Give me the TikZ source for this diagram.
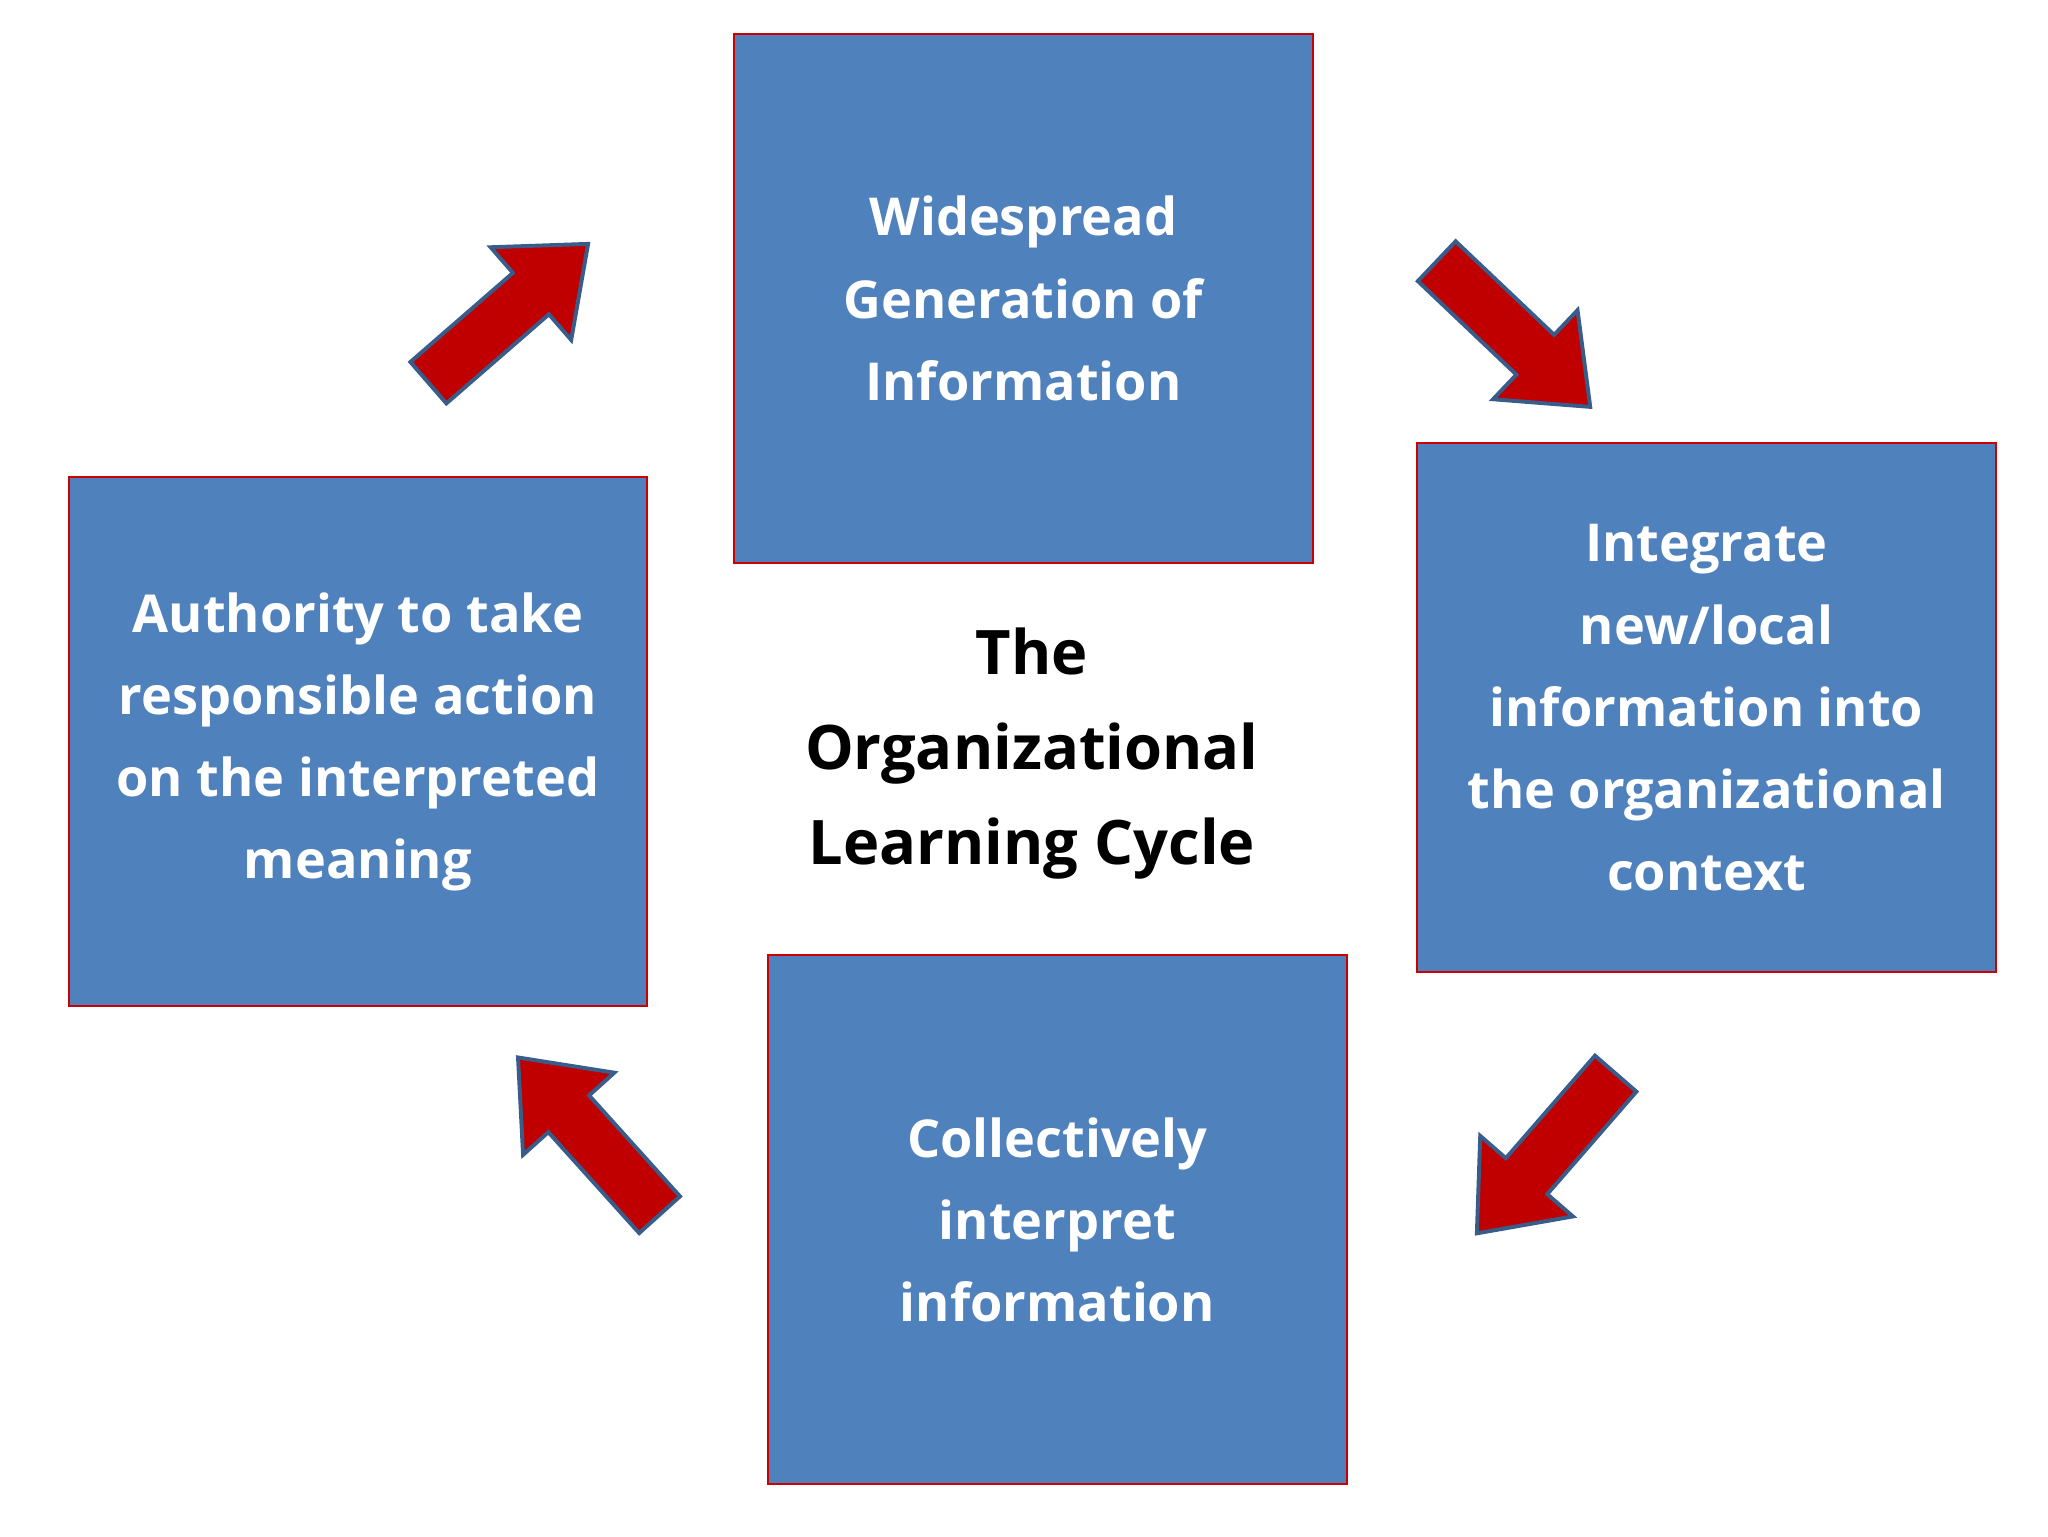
\documentclass[tikz,border=0pt]{standalone}
\usepackage{fontspec}
\setmainfont{Open Sans}
\definecolor{boxblue}{HTML}{4F81BD}
\definecolor{arrred}{HTML}{C00000}
\definecolor{arrline}{HTML}{385D8A}
\tikzset{
  stagebox/.style={draw=red!80!black, line width=1.5pt, fill=boxblue, text=white, minimum width=443pt, minimum height=405pt, align=center, font=\fontsize{40}{63}\selectfont\bfseries, inner sep=0pt},
  bigarrow/.style={draw=arrline, line width=3pt, fill=arrred, line join=miter}
}
\newcommand{\blockarrow}[3]{%
  \begin{scope}[shift={(#1,#2)}, rotate=#3]
    \draw[bigarrow] (0,-21) -- (104,-21) -- (104,-47) -- (162,0) -- (104,47) -- (104,21) -- (0,21) -- cycle;
  \end{scope}}
\begin{document}
\begin{tikzpicture}[x=1pt,y=-1pt]
\useasboundingbox (0,0) rectangle (1568,1176);
\node[stagebox] (top) at (783.5,228.5) {Widespread\\Generation of\\Information};
\node[stagebox] (right) at (1306.5,542) {Integrate\\new/local\\information into\\the organizational\\context};
\node[stagebox] (bottom) at (809.5,934) {Collectively\\interpret\\information};
\node[stagebox] (left) at (274,568) {Authority to take\\responsible action\\on the interpreted\\meaning};
\node[align=center, font=\fontsize{47}{73}\selectfont\bfseries] (title) at (790,577) {The\\Organizational\\Learning Cycle};
\blockarrow{328}{293}{41}
\blockarrow{1100}{200}{-43.5}
\blockarrow{1237}{822}{-131}
\blockarrow{505}{930}{132}
\end{tikzpicture}
\end{document}
